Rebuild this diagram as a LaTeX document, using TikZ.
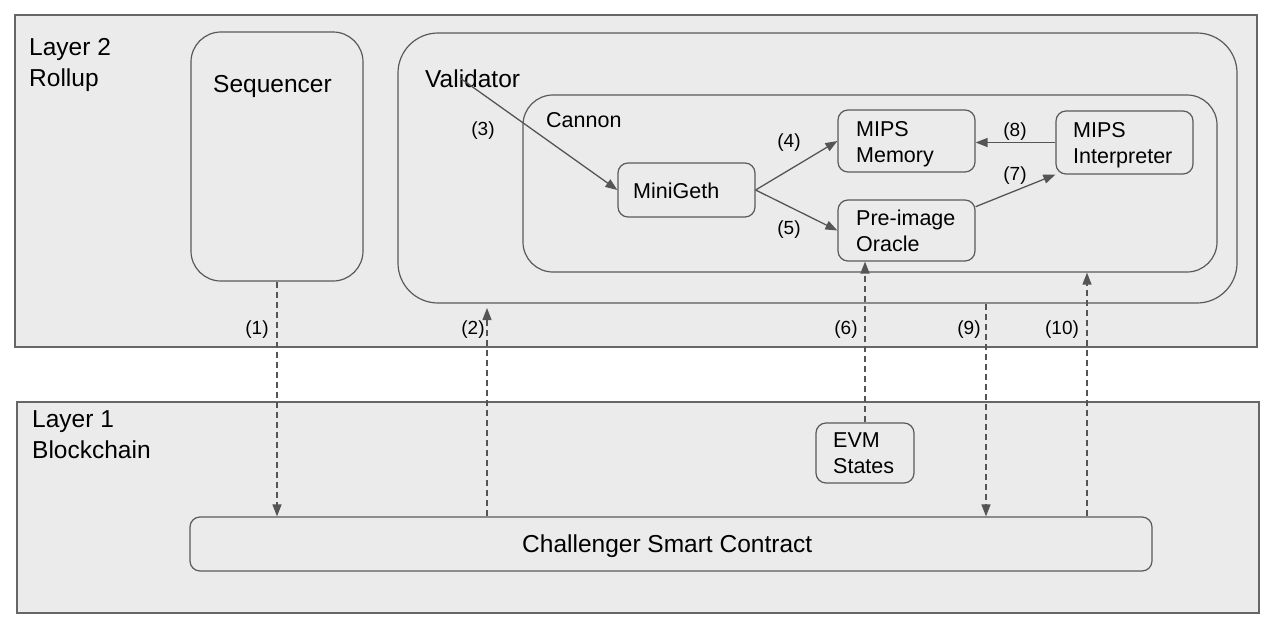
\documentclass[tikz,border=0pt]{standalone}
\usepackage{fontspec}
\setmainfont{Liberation Sans}
\usetikzlibrary{arrows.meta}
\definecolor{bg}{HTML}{EBEBEB}
\definecolor{ln}{HTML}{666666}
\definecolor{bx}{HTML}{5A5A5A}
\definecolor{ar}{HTML}{555555}
\begin{document}
\begin{tikzpicture}[x=1pt,y=-1pt,
  layerbox/.style={draw=ln, fill=bg, line width=1.4pt, inner sep=0pt},
  rbox/.style={draw=bx, fill=bg, line width=1.2pt, inner sep=0pt, rounded corners=#1},
  rbox/.default=10pt,
  bigtxt/.style={font=\fontsize{24.5}{30.5}\selectfont, anchor=base west, inner sep=0pt, align=left},
  midtxt/.style={font=\fontsize{21.5}{26}\selectfont, anchor=base west, inner sep=0pt, align=left},
  lbl/.style={font=\fontsize{19}{22}\selectfont, inner sep=0pt},
  arr/.style={draw=ar, line width=1.3pt, -{Triangle[length=12pt,width=9pt]}},
  darr/.style={arr, dash pattern=on 6pt off 4pt}
]
\useasboundingbox (0,0) rectangle (1272,635);
\fill[white] (0,0) rectangle (1272,635);

% layers
\node[layerbox, minimum width=1242pt, minimum height=332pt] (L2) at (636,181) {};
\node[layerbox, minimum width=1242pt, minimum height=211pt] (L1) at (638,507.5) {};
\node[bigtxt] (L2t) at (29,86) {Layer 2\\Rollup};
\node[bigtxt] (L1t) at (32,458) {Layer 1\\Blockchain};

% big containers
\node[rbox=30pt, minimum width=172pt, minimum height=249pt] (seq) at (277,156.5) {};
\node[bigtxt] (seqt) at (213,92) {Sequencer};
\node[rbox=40pt, minimum width=839pt, minimum height=270pt] (val) at (817.5,168) {};
\node[bigtxt] (valt) at (425,87) {Validator};
\node[rbox=30pt, minimum width=694pt, minimum height=177pt] (can) at (870,183.5) {};
\node[midtxt] (cant) at (546,127) {Cannon};

% inner boxes
\node[rbox, minimum width=137pt, minimum height=54pt] (mg) at (686.5,190) {};
\node[midtxt] (mgt) at (633,198) {MiniGeth};
\node[rbox, minimum width=137pt, minimum height=62pt] (mem) at (906.5,141) {};
\node[midtxt] (memt) at (856,162) {MIPS\\Memory};
\node[rbox, minimum width=137pt, minimum height=63pt] (int) at (1124.5,142.5) {};
\node[midtxt] (intt) at (1073,163) {MIPS\\Interpreter};
\node[rbox, minimum width=137pt, minimum height=61pt] (pre) at (906.5,230.5) {};
\node[midtxt] (pret) at (856,251.5) {Pre-image\\Oracle};
\node[rbox, minimum width=98pt, minimum height=60pt] (evm) at (865,453) {};
\node[midtxt] (evmt) at (833,473) {EVM\\States};
\node[rbox, minimum width=962pt, minimum height=54pt] (ch) at (671,544) {};
\node[bigtxt] (cht) at (522,552) {Challenger Smart Contract};

% helper coordinates
\coordinate (v3) at (460,78);
\coordinate (x2) at (487,308);
\coordinate (x9) at (986,0);
\coordinate (x10) at (1087,0);

% solid arrows
\draw[arr] (v3) -- (mg.west);
\draw[arr] (mg.east) -- (mem.west);
\draw[arr] (mg.east) -- (pre.west);
\draw[arr] (int.west) -- (int.west -| mem.east);
\draw[arr] (pre.19) -- (int.south west);

% dashed arrows
\draw[darr] (seq.south) -- (seq.south |- ch.north);
\draw[darr] (ch.north -| x2) -- (x2);
\draw[darr] (evm.north) -- (evm.north |- pre.south);
\draw[darr] (val.south -| x9) -- (ch.north -| x9);
\draw[darr] (ch.north -| x10) -- (can.south -| x10);

% labels
\node[lbl] (l1) at (257,330) {(1)};
\node[lbl] (l2) at (473,330) {(2)};
\node[lbl] (l3) at (483,131) {(3)};
\node[lbl] (l4) at (789,143) {(4)};
\node[lbl] (l5) at (789,230) {(5)};
\node[lbl] (l6) at (846,330) {(6)};
\node[lbl] (l7) at (1015,176) {(7)};
\node[lbl] (l8) at (1015,132) {(8)};
\node[lbl] (l9) at (969,330) {(9)};
\node[lbl] (l10) at (1062,330) {(10)};
\end{tikzpicture}
\end{document}
